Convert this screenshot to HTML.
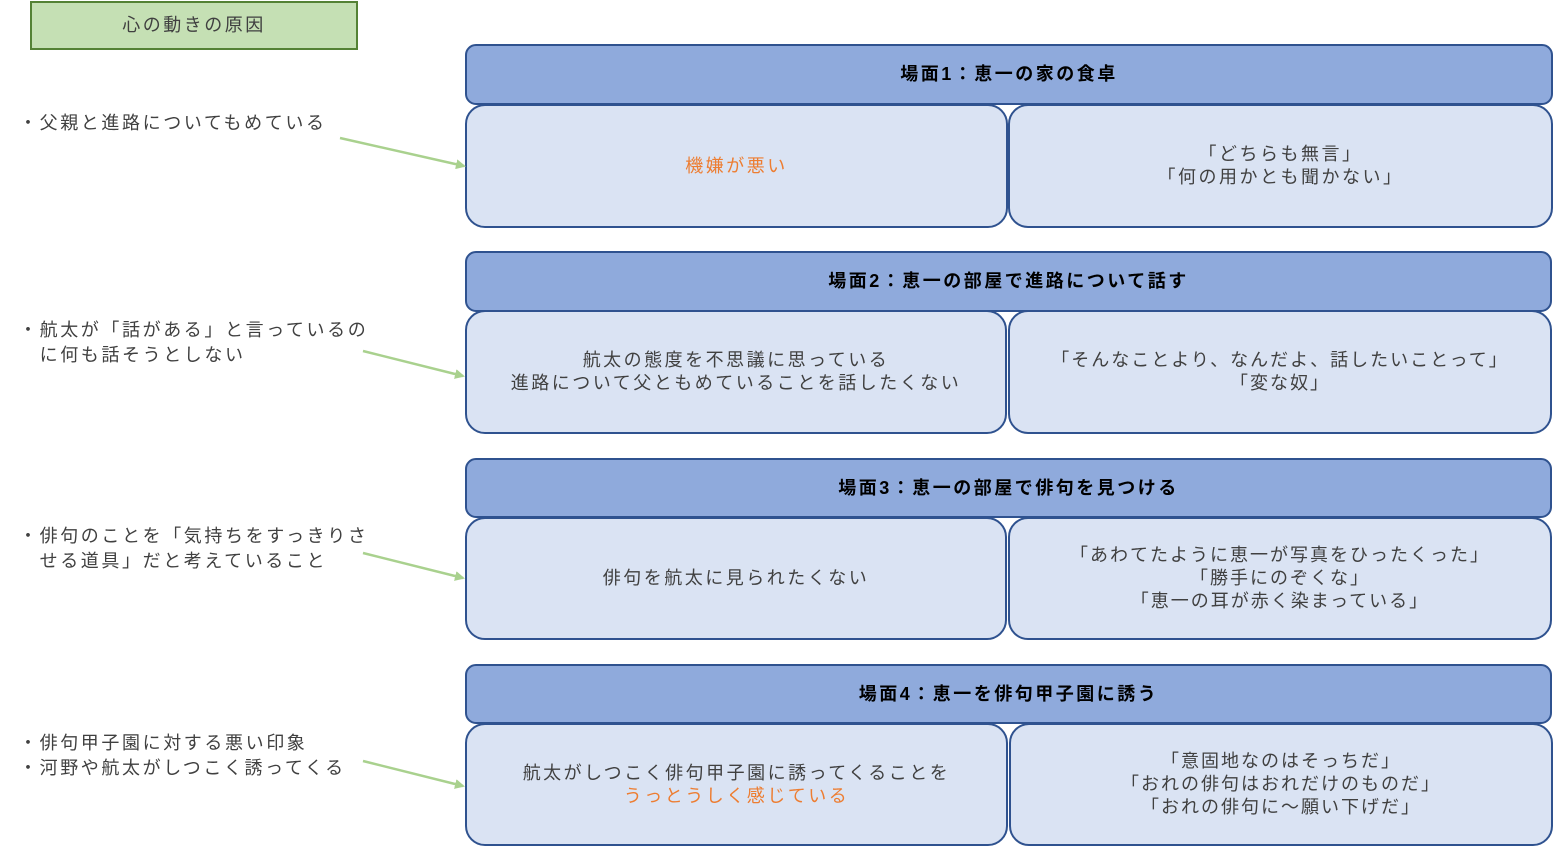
<!DOCTYPE html>
<html><head><meta charset="utf-8">
<style>
html,body{margin:0;padding:0;background:#fff;}
body{width:1554px;height:847px;position:relative;overflow:hidden;font-family:"Liberation Sans","Noto Sans CJK JP",sans-serif;}
.b{position:absolute;box-sizing:border-box;display:flex;align-items:center;justify-content:center;text-align:center;font-size:18px;letter-spacing:2.5px;line-height:23px;color:#404040;}
.b > div{white-space:nowrap;}
.title{left:30px;top:1px;width:328px;height:49px;background:#C5E0B4;border:2px solid #548235;}
.h{background:#8FAADC;border:2px solid #2F528F;border-radius:11px;color:#000;font-weight:bold;letter-spacing:2.5px;}
.c{background:#DAE3F3;border:2px solid #2F528F;border-radius:20px;}
.t{position:absolute;left:19px;font-size:18px;letter-spacing:2.6px;line-height:25px;color:#404040;white-space:pre;}
.o{color:#ED7D31;}
</style></head><body>
<div class="b title"><div>心の動きの原因</div></div>

<div class="t" style="top:111px;">・父親と進路についてもめている</div>
<div class="t" style="top:318px;">・航太が「話がある」と言っているの
　に何も話そうとしない</div>
<div class="t" style="top:524px;">・俳句のことを「気持ちをすっきりさ
　せる道具」だと考えていること</div>
<div class="t" style="top:731px;">・俳句甲子園に対する悪い印象
・河野や航太がしつこく誘ってくる</div>

<!-- Row 1 -->
<div class="b h" style="left:465px;top:44px;width:1088px;height:61px;"><div>場面1：恵一の家の食卓</div></div>
<div class="b c" style="left:465px;top:104px;width:543px;height:124px;"><div class="o">機嫌が悪い</div></div>
<div class="b c" style="left:1008px;top:104px;width:545px;height:124px;"><div>「どちらも無言」<br>「何の用かとも聞かない」</div></div>

<!-- Row 2 -->
<div class="b h" style="left:465px;top:251px;width:1087px;height:61px;"><div>場面2：恵一の部屋で進路について話す</div></div>
<div class="b c" style="left:465px;top:310px;width:542px;height:124px;"><div>航太の態度を不思議に思っている<br>進路について父ともめていることを話したくない</div></div>
<div class="b c" style="left:1008px;top:310px;width:544px;height:124px;letter-spacing:2px;"><div>「そんなことより、なんだよ、話したいことって」<br>「変な奴」</div></div>

<!-- Row 3 -->
<div class="b h" style="left:465px;top:458px;width:1087px;height:60px;"><div>場面3：恵一の部屋で俳句を見つける</div></div>
<div class="b c" style="left:465px;top:517px;width:542px;height:123px;"><div>俳句を航太に見られたくない</div></div>
<div class="b c" style="left:1008px;top:517px;width:544px;height:123px;letter-spacing:2px;"><div>「あわてたように恵一が写真をひったくった」<br>「勝手にのぞくな」<br>「恵一の耳が赤く染まっている」</div></div>

<!-- Row 4 -->
<div class="b h" style="left:465px;top:664px;width:1087px;height:60px;"><div>場面4：恵一を俳句甲子園に誘う</div></div>
<div class="b c" style="left:465px;top:723px;width:543px;height:123px;"><div>航太がしつこく俳句甲子園に誘ってくることを<br><span class="o">うっとうしく感じている</span></div></div>
<div class="b c" style="left:1009px;top:723px;width:544px;height:123px;letter-spacing:2px;"><div>「意固地なのはそっちだ」<br>「おれの俳句はおれだけのものだ」<br>「おれの俳句に～願い下げだ」</div></div>

<svg width="1554" height="847" style="position:absolute;left:0;top:0;pointer-events:none;">
<defs>
<marker id="ar" markerWidth="10" markerHeight="10" refX="8" refY="5" orient="auto" markerUnits="userSpaceOnUse">
<path d="M0,0 L10,5 L0,10 Z" fill="#A9D18E"/>
</marker>
</defs>
<g stroke="#A9D18E" stroke-width="2.5" fill="none">
<line x1="340" y1="138" x2="464" y2="166" marker-end="url(#ar)"/>
<line x1="363" y1="351" x2="463" y2="376" marker-end="url(#ar)"/>
<line x1="363" y1="553" x2="463" y2="578" marker-end="url(#ar)"/>
<line x1="363" y1="761" x2="463" y2="786" marker-end="url(#ar)"/>
</g>
</svg>
</body></html>
